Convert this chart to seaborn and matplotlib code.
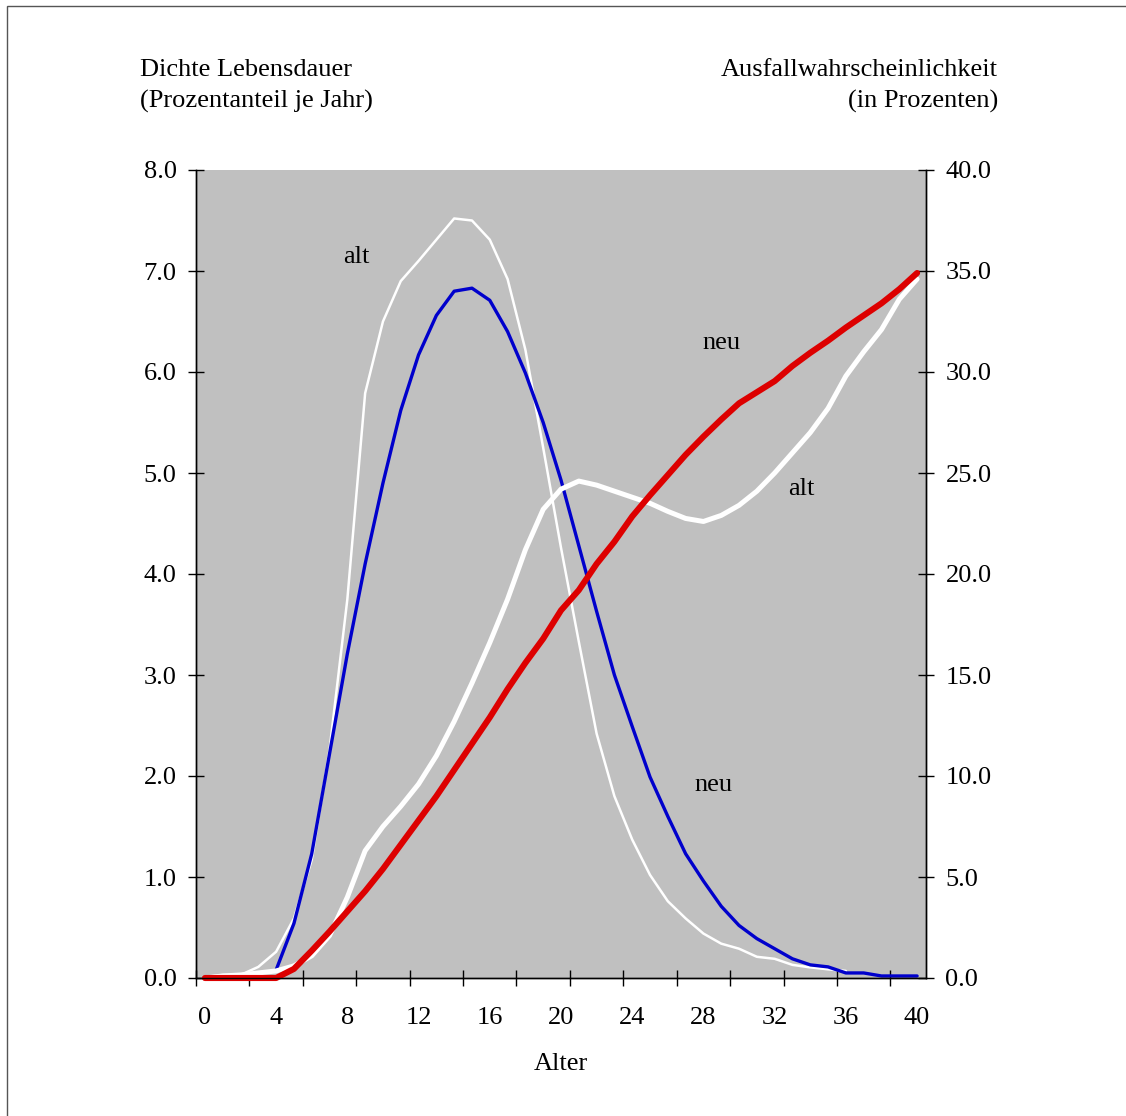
import numpy as np
import pandas as pd
import matplotlib
matplotlib.use("Agg")
import matplotlib.pyplot as plt
from matplotlib.patches import Rectangle
from matplotlib.ticker import FormatStrFormatter
import seaborn as sns

alter = list(range(41))
x_labels = [str(v) for v in range(0, 41, 4)]

# Dichte Lebensdauer (Prozentanteil je Jahr), linke Achse
dichte_alt = [0.01, 0.03, 0.03, 0.11, 0.26, 0.59, 1.17, 2.26, 3.75, 5.79,
              6.50, 6.90, 7.10, 7.31, 7.52, 7.50, 7.31, 6.92, 6.22, 5.25,
              4.26, 3.33, 2.42, 1.80, 1.37, 1.02, 0.76, 0.59, 0.44, 0.34,
              0.29, 0.21, 0.19, 0.13, 0.105, 0.086, 0.07, None, None, None, None]
dichte_neu = [None, None, None, None, 0.08, 0.54, 1.23, 2.22, 3.21, 4.10,
              4.90, 5.62, 6.17, 6.56, 6.80, 6.83, 6.71, 6.40, 5.99, 5.50,
              4.93, 4.28, 3.63, 3.00, 2.49, 1.99, 1.60, 1.23, 0.96, 0.71,
              0.52, 0.39, 0.29, 0.19, 0.13, 0.11, 0.05, 0.05, 0.02, 0.02, 0.02]

# Ausfallwahrscheinlichkeit (in Prozenten), rechte Achse
ausfall_alt = [0.0, 0.1, 0.15, 0.25, 0.35, 0.6, 1.1, 2.1, 4.0, 6.3,
               7.5, 8.5, 9.6, 11.0, 12.7, 14.6, 16.6, 18.75, 21.2, 23.2,
               24.2, 24.6, 24.4, 24.1, 23.8, 23.5, 23.1, 22.75, 22.6, 22.9,
               23.4, 24.1, 25.0, 26.0, 27.0, 28.2, 29.8, 31.0, 32.1, 33.6, 34.6]
ausfall_neu = [0, 0, 0, 0, 0, 0.45, 1.35, 2.3, 3.3, 4.3,
               5.4, 6.6, 7.8, 9.0, 10.3, 11.6, 12.9, 14.3, 15.6, 16.8,
               18.2, 19.2, 20.5, 21.6, 22.85, 23.9, 24.9, 25.9, 26.8, 27.65,
               28.45, 29.0, 29.55, 30.3, 30.95, 31.55, 32.2, 32.8, 33.4, 34.1, 34.9]

df = pd.DataFrame({
    "alter": alter,
    "dichte_alt": pd.Series(dichte_alt, dtype="float"),
    "dichte_neu": pd.Series(dichte_neu, dtype="float"),
    "ausfall_alt": ausfall_alt,
    "ausfall_neu": ausfall_neu,
})

sns.set_style("ticks")
plt.rcParams["font.family"] = ["Liberation Serif", "DejaVu Serif"]
plt.rcParams["font.size"] = 19
for key in ("text.color", "axes.labelcolor", "xtick.color", "ytick.color"):
    plt.rcParams[key] = "black"

W, H = 1126, 1116
fig = plt.figure(figsize=(W / 100, H / 100), dpi=100)
ax = fig.add_axes([196 / W, 1 - 978 / H, (926 - 196) / W, (978 - 170) / H])
ax.set_facecolor("#c0c0c0")
ax2 = ax.twinx()

sns.lineplot(data=df, x="alter", y="dichte_alt", ax=ax, color="white",
             linewidth=1.8, estimator=None, sort=False)
sns.lineplot(data=df, x="alter", y="dichte_neu", ax=ax, color="#0000cc",
             linewidth=2.4, estimator=None, sort=False)
sns.lineplot(data=df, x="alter", y="ausfall_alt", ax=ax2, color="white",
             linewidth=3.6, estimator=None, sort=False)
sns.lineplot(data=df, x="alter", y="ausfall_neu", ax=ax2, color="#dd0000",
             linewidth=4.4, estimator=None, sort=False, clip_on=False)

ax.set_xlim(-0.5, 40.5)
ax.set_ylim(0, 8)
ax2.set_ylim(0, 40)
ax.set_yticks(np.arange(0, 8.01, 1))
ax2.set_yticks(np.arange(0, 40.01, 5))
ax.yaxis.set_major_formatter(FormatStrFormatter("%.1f"))
ax2.yaxis.set_major_formatter(FormatStrFormatter("%.1f"))

ax.set_xticks(np.arange(-0.5, 40, 3))
ax.set_xticks(range(0, 41, 4), minor=True)
ax.set_xticklabels(x_labels, minor=True)
ax.tick_params(axis="x", which="major", direction="inout", length=12,
               width=1, labelbottom=False)
ax.tick_params(axis="x", which="minor", length=0, pad=21)
ax.tick_params(axis="y", direction="inout", length=12, width=1, pad=8)
ax2.tick_params(axis="y", direction="inout", length=12, width=1, pad=8)

for a in (ax, ax2):
    a.spines["top"].set_visible(False)
    for s in ("left", "right", "bottom"):
        a.spines[s].set_color("black")
        a.spines[s].set_linewidth(1)
    a.set_ylabel("")
ax.set_xlabel("Alter", labelpad=17)

ax.text(8.5, 7.14, "alt", ha="center", va="center")
ax.text(29.0, 6.29, "neu", ha="center", va="center")
ax.text(33.5, 4.84, "alt", ha="center", va="center")
ax.text(28.55, 1.91, "neu", ha="center", va="center")

fig.text(140 / W, 1 - 86 / H, "Dichte Lebensdauer\n(Prozentanteil je Jahr)",
         ha="left", va="center", linespacing=1.5)
fig.text(998 / W, 1 - 86 / H, "Ausfallwahrscheinlichkeit\n(in Prozenten)",
         ha="right", va="center", multialignment="right", linespacing=1.5)

fig.add_artist(Rectangle((7 / W, -0.1), 1.2, 1 - 6 / H + 0.1,
                         transform=fig.transFigure, fill=False,
                         edgecolor="#555555", linewidth=1))

fig.savefig("out.png", dpi=100, facecolor="white")
